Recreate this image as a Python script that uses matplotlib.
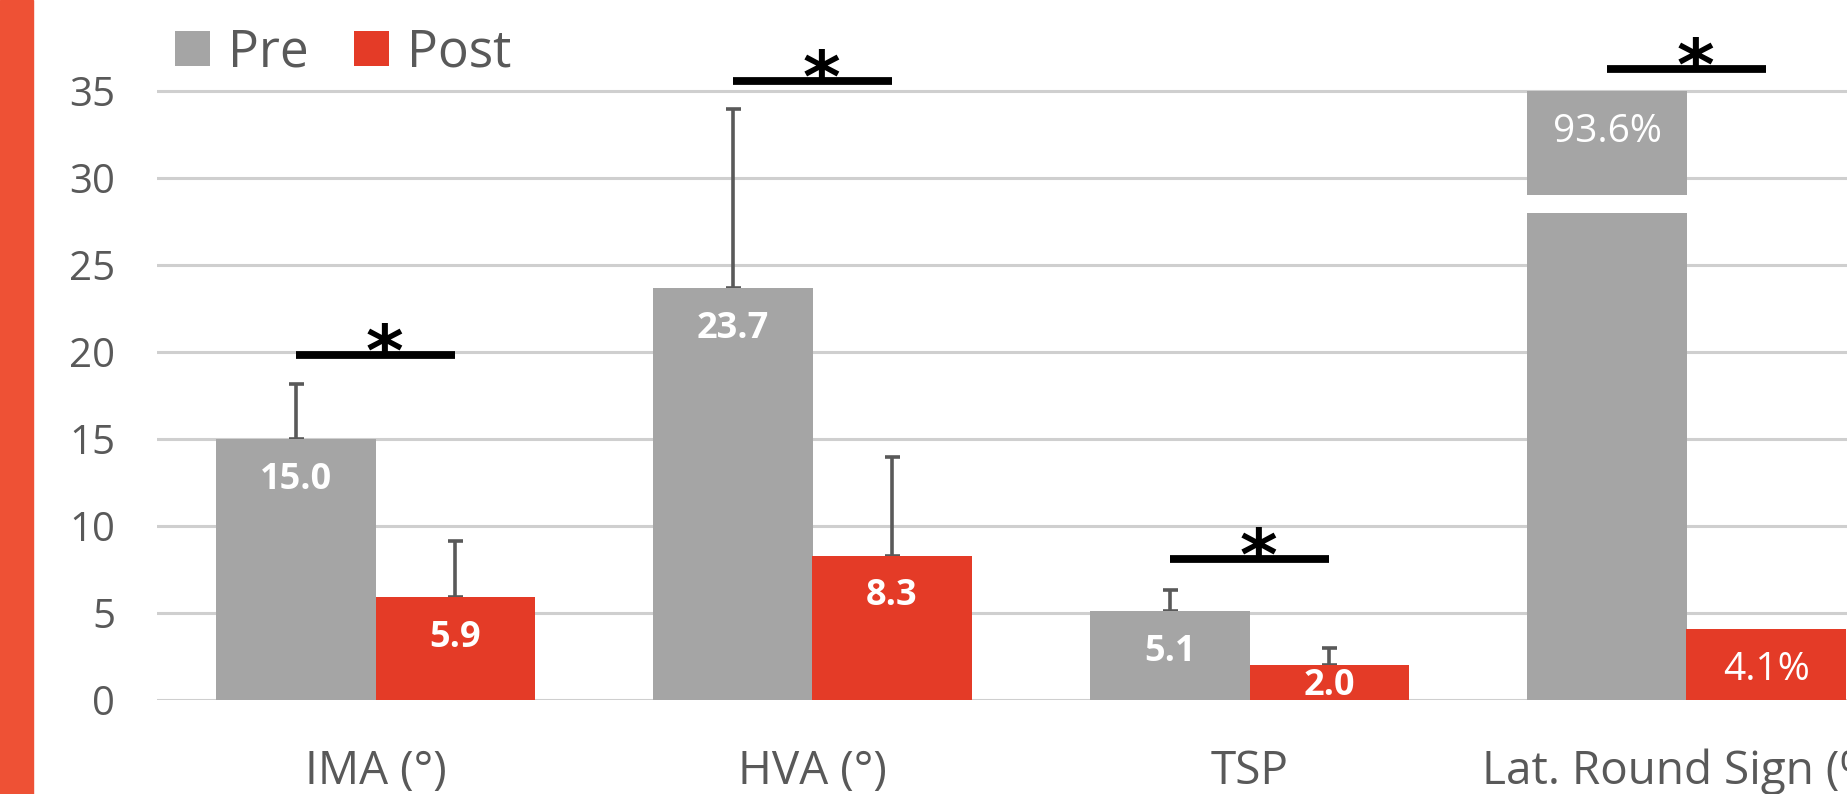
import matplotlib.pyplot as plt
from matplotlib.patches import Rectangle
import numpy as np

categories = ['IMA (°)', 'HVA (°)', 'TSP', 'Lat. Round Sign (%)']
pre = [15.0, 23.7, 5.1, 93.6]
post = [5.9, 8.3, 2.0, 4.1]
pre_err = [3.15, 10.25, 1.25]
post_err = [3.25, 5.65, 1.0]
sig_height = [19.8, 35.55, 8.1, 36.25]
label_fmt = ['{:.1f}', '{:.1f}', '{:.1f}', '{:.1f}%']
label_bold = [True, True, True, False]

GRAY = '#A5A5A5'
RED = '#E43B27'
TXT = '#595959'
CUT_LO, CUT_HI, SHOW_MAX = 28.0, 29.0, 35.0

plt.rcParams['font.family'] = ['Open Sans', 'DejaVu Sans']

fig = plt.figure(figsize=(18.47, 7.94), dpi=100)
fig.patches.append(Rectangle((0, 0), 33 / 1847, 1, transform=fig.transFigure,
                             color='#EE5135', zorder=0))

ax = fig.add_axes([157 / 1847, 94 / 794, 1748 / 1847, 700 / 794])
x = np.arange(len(categories))
w = 0.364

# pre bars, values above SHOW_MAX drawn as a broken bar
pre_shown = [v if v <= SHOW_MAX else CUT_LO for v in pre]
b1 = ax.bar(x - w / 2, pre_shown, w, color=GRAY, label='Pre', zorder=2)
for i, v in enumerate(pre):
    if v > SHOW_MAX:
        ax.bar(x[i] - w / 2, SHOW_MAX - CUT_HI, w, bottom=CUT_HI, color=GRAY, zorder=2)
b2 = ax.bar(x + w / 2, post, w, color=RED, label='Post', zorder=2)

n = len(pre_err)
ax.errorbar(x[:n] - w / 2, pre[:n], yerr=[np.zeros(n), pre_err], fmt='none',
            ecolor=TXT, elinewidth=2.6, capsize=5.4, capthick=2.6, zorder=1.5)
ax.errorbar(x[:n] + w / 2, post[:n], yerr=[np.zeros(n), post_err], fmt='none',
            ecolor=TXT, elinewidth=2.6, capsize=5.4, capthick=2.6, zorder=1.5)

# value labels inside bar tops
for i in range(len(categories)):
    for xx, v in ((x[i] - w / 2, pre[i]), (x[i] + w / 2, post[i])):
        top = min(v, SHOW_MAX)
        y = max(top - 2.35, 0.8)
        ax.text(xx, y, label_fmt[i].format(v), ha='center', va='center',
                color='white', fontsize=26 if label_bold[i] else 28,
                fontweight='bold' if label_bold[i] else 'normal',
                zorder=3, clip_on=True)

# significance markers
for i, h in enumerate(sig_height):
    ax.plot([x[i] - w / 2, x[i] + w / 2], [h, h], color='black', lw=5.6,
            solid_capstyle='butt', zorder=5)
    ax.annotate('*', xy=(x[i], h), xytext=(6.5, -1), textcoords='offset points',
                ha='center', va='center', fontsize=52, fontweight='bold',
                family='DejaVu Sans', color='black', zorder=4,
                annotation_clip=False)

ax.set_xlim(-0.5, len(categories) - 0.5)
ax.set_ylim(0, 700 / 17.4)
ax.set_yticks(range(0, 40, 5))
ax.set_xticks(x)
ax.set_xticklabels(categories)
ax.yaxis.grid(True, color='#CFCFCF', lw=2.2)
ax.set_axisbelow(True)
for s in ax.spines.values():
    s.set_visible(False)
ax.tick_params(axis='y', length=0, pad=30, labelsize=29, labelcolor=TXT)
ax.tick_params(axis='x', length=0, pad=35, labelsize=33, labelcolor=TXT)

fig.legend(handles=[b1, b2], labels=['Pre', 'Post'], loc='center left',
           bbox_to_anchor=(175 / 1847, 1 - 53 / 794), ncol=2, frameon=False,
           fontsize=37, labelcolor=TXT, borderaxespad=0, borderpad=0,
           handlelength=0.68, handleheight=0.68, handletextpad=0.35,
           columnspacing=0.88)

fig.savefig('out.png', dpi=100)
